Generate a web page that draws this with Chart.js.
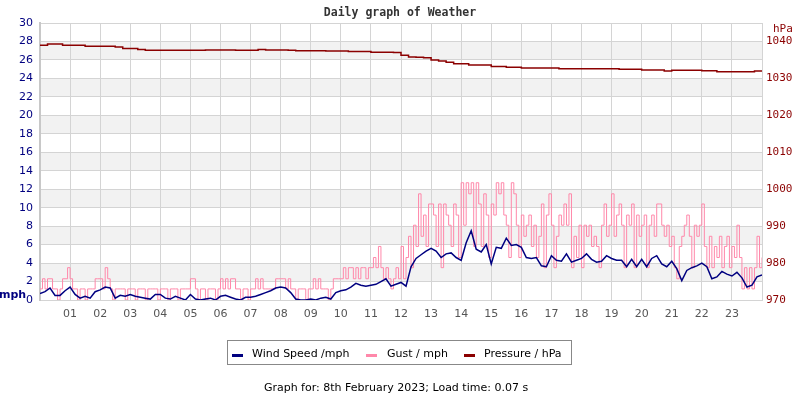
<!DOCTYPE html>
<html><head><meta charset="utf-8">
<script src="https://cdn.jsdelivr.net/npm/chart.js@4.4.0/dist/chart.umd.min.js"></script>
<style>
html,body{margin:0;padding:0;background:#fff;}
#wrap{position:relative;width:800px;height:400px;overflow:hidden;font-family:"DejaVu Sans",sans-serif;}
#c{position:absolute;left:0;top:0;}
#legend{position:absolute;left:227px;top:340px;width:343px;height:23px;border:1px solid #888;background:#fff;}
.item{position:absolute;top:1px;height:24px;line-height:24px;font-size:11px;color:#000;white-space:nowrap;}
.mk{position:absolute;width:11px;height:3px;top:13px;}
#footer{position:absolute;left:0;width:792px;text-align:center;top:381px;font-size:11px;line-height:14px;color:#000;}
</style></head>
<body>
<div id="wrap">
<canvas id="c" width="800" height="400"></canvas>
<div id="legend">
  <div class="mk" style="left:4px;background:#000080"></div><div class="item" style="left:24px">Wind Speed /mph</div>
  <div class="mk" style="left:138px;background:#ff88aa"></div><div class="item" style="left:159px">Gust / mph</div>
  <div class="mk" style="left:236px;background:#8b0000"></div><div class="item" style="left:256px">Pressure / hPa</div>
</div>
<div id="footer">Graph for: 8th February 2023; Load time: 0.07 s</div>
</div>
<script>
const hourLabels = ['', '01','02','03','04','05','06','07','08','09','10','11','12','13','14','15','16','17','18','19','20','21','22','23',''];
const rightTicks = [970, 980, 990, 1000, 1010, 1020, 1030, 1040];

// Wind speed (mph), 10-minute readings
const windSpeed = [
  0.7,0.9,1.3,0.5,0.5,1.0,
  1.4,0.6,0.2,0.4,0.2,0.9,
  1.1,1.4,1.3,0.2,0.5,0.4,
  0.6,0.4,0.3,0.2,0.1,0.6,
  0.6,0.2,0.1,0.4,0.2,0.0,
  0.6,0.1,0.0,0.1,0.2,0.0,
  0.4,0.5,0.3,0.1,0.0,0.3,
  0.3,0.4,0.6,0.8,1.0,1.3,
  1.4,1.3,0.8,0.1,0.0,0.0,
  0.1,0.0,0.2,0.3,0.1,0.8,
  1.0,1.1,1.4,1.8,1.6,1.5,
  1.6,1.7,2.0,2.3,1.5,1.7,
  1.9,1.5,3.6,4.5,4.9,5.3,
  5.6,5.3,4.6,5.0,5.1,4.6,
  4.3,6.2,7.5,5.5,5.2,6.0,
  3.9,5.7,5.6,6.7,5.9,6.0,
  5.7,4.6,4.5,4.6,3.7,3.6,
  4.8,4.3,4.2,5.0,4.1,4.3,
  4.5,5.0,4.4,4.1,4.2,4.8,
  4.5,4.3,4.3,3.6,4.4,3.6,
  4.4,3.6,4.5,4.8,3.9,3.6,
  4.2,3.4,2.1,3.2,3.5,3.7,
  4.0,3.6,2.3,2.5,3.1,2.8,
  2.6,3.0,2.4,1.4,1.6,2.5,
  2.7
];

// Gust (mph), 5-minute readings
const gust = [
  1.2,2.3,1.2,2.3,2.3,1.2,1.2,0,1.2,2.3,2.3,3.5,
  2.3,1.2,1.2,0,1.2,1.2,0,1.2,1.2,1.2,2.3,2.3,
  2.3,1.2,3.5,2.3,1.2,0,1.2,1.2,1.2,1.2,0,1.2,
  1.2,1.2,0,1.2,1.2,1.2,0,1.2,1.2,1.2,1.2,0,
  1.2,1.2,1.2,0,1.2,1.2,1.2,0,1.2,1.2,1.2,1.2,
  2.3,2.3,1.2,0,1.2,1.2,0,1.2,1.2,1.2,0,1.2,
  2.3,1.2,2.3,1.2,2.3,2.3,1.2,1.2,0,1.2,1.2,0,
  1.2,1.2,2.3,1.2,2.3,1.2,1.2,1.2,1.2,1.2,2.3,2.3,
  2.3,2.3,1.2,2.3,1.2,1.2,0,1.2,1.2,1.2,0,1.2,
  1.2,2.3,1.2,2.3,1.2,1.2,1.2,0,1.2,2.3,2.3,2.3,
  2.3,3.5,2.3,3.5,3.5,2.3,3.5,2.3,3.5,3.5,2.3,3.5,
  3.5,4.6,3.5,5.8,3.5,2.3,3.5,2.3,1.2,2.3,3.5,2.3,
  5.8,2.3,4.6,6.9,3.5,8.1,5.8,11.5,6.9,9.2,5.8,10.4,
  10.4,9.2,5.8,10.4,3.5,10.4,9.2,8.1,5.8,10.4,9.2,4.6,
  12.7,8.1,12.7,11.5,12.7,5.8,12.7,10.4,5.8,11.5,9.2,4.6,
  10.4,9.2,12.7,11.5,12.7,9.2,8.1,4.6,12.7,11.5,8.1,4.6,
  9.2,6.9,8.1,9.2,5.8,8.1,4.6,6.9,10.4,3.5,9.2,11.5,
  8.1,3.5,6.9,9.2,8.1,10.4,8.1,11.5,3.5,6.9,4.6,8.1,
  3.5,8.1,6.9,8.1,5.8,6.9,5.8,3.5,8.1,10.4,6.9,8.1,
  11.5,6.9,9.2,10.4,8.1,3.5,9.2,8.1,10.4,3.5,9.2,6.9,
  8.1,9.2,3.5,8.1,9.2,6.9,10.4,10.4,8.1,6.9,8.1,5.8,
  6.9,3.5,2.3,5.8,6.9,8.1,9.2,6.9,3.5,8.1,6.9,8.1,
  10.4,5.8,3.5,6.9,3.5,5.8,4.6,6.9,3.5,5.8,6.9,3.5,
  5.8,4.6,8.1,4.6,1.2,3.5,1.2,3.5,1.2,3.5,6.9,3.5,
  4.6
];

// Pressure (hPa), 15-minute readings
const pressure = [
  1039.0,1039.3,1039.3,1039.0,
  1039.0,1039.0,1038.7,1038.7,
  1038.7,1038.7,1038.5,1038.1,
  1038.1,1037.8,1037.6,1037.6,
  1037.6,1037.6,1037.6,1037.6,
  1037.6,1037.6,1037.7,1037.7,
  1037.7,1037.7,1037.6,1037.6,
  1037.6,1037.8,1037.7,1037.7,
  1037.7,1037.6,1037.5,1037.5,
  1037.5,1037.5,1037.4,1037.4,
  1037.4,1037.3,1037.3,1037.3,
  1037.1,1037.1,1037.1,1037.0,
  1036.3,1035.8,1035.7,1035.6,
  1035.0,1034.7,1034.4,1034.0,
  1034.0,1033.6,1033.6,1033.6,
  1033.2,1033.2,1033.0,1033.0,
  1032.8,1032.8,1032.8,1032.8,
  1032.8,1032.6,1032.6,1032.6,
  1032.6,1032.6,1032.6,1032.6,
  1032.6,1032.5,1032.5,1032.5,
  1032.3,1032.3,1032.3,1032.0,
  1032.2,1032.2,1032.2,1032.2,
  1032.1,1032.1,1031.8,1031.8,
  1031.8,1031.8,1031.8,1032.0,
  1031.8
];

const toPts = (arr, perHour) => arr.map((v, i) => ({x: i / perHour, y: v}));

const bandsPlugin = {
  id: 'bands',
  beforeDraw(chart) {
    const {ctx, chartArea: a, scales: {y}} = chart;
    ctx.save();
    ctx.fillStyle = '#fff';
    ctx.fillRect(0, 0, chart.width, chart.height);
    ctx.fillStyle = '#f2f2f2';
    for (let v = 2; v < 30; v += 4) {
      const t = y.getPixelForValue(v + 2), b = y.getPixelForValue(v);
      ctx.fillRect(a.left, t, a.right - a.left, b - t);
    }
    ctx.restore();
  }
};

const textPlugin = {
  id: 'texts',
  afterDraw(chart) {
    const ctx = chart.ctx;
    ctx.save();
    ctx.textBaseline = 'middle';
    ctx.textAlign = 'center';
    ctx.fillStyle = '#333';
    ctx.font = 'bold 11.5px "DejaVu Sans Mono"';
    ctx.fillText('Daily graph of Weather', 400, 13);
    ctx.fillStyle = '#000080';
    ctx.font = 'bold 11px "DejaVu Sans"';
    ctx.fillText('mph', 12.5, 295);
    ctx.fillStyle = '#8b0000';
    ctx.font = '11px "DejaVu Sans Mono"';
    ctx.textAlign = 'left';
    ctx.fillText('hPa', 773, 29);
    ctx.restore();
  }
};

new Chart(document.getElementById('c'), {
  type: 'line',
  data: {
    datasets: [
      {label: 'Wind Speed /mph', data: toPts(windSpeed, 6), borderColor: '#000080', borderWidth: 1.5, pointRadius: 0, tension: 0, yAxisID: 'y', order: 0},
      {label: 'Gust / mph', data: toPts(gust, 12), borderColor: '#ff88aa', borderWidth: 1, pointRadius: 0, stepped: true, yAxisID: 'y', order: 1},
      {label: 'Pressure / hPa', data: toPts(pressure, 4), borderColor: '#8b0000', borderWidth: 1.5, pointRadius: 0, stepped: true, yAxisID: 'y1', order: 2}
    ]
  },
  options: {
    responsive: false,
    animation: false,
    layout: {padding: {top: 23, left: 0, right: 0, bottom: 0}},
    plugins: {legend: {display: false}, tooltip: {enabled: false}, title: {display: false}},
    scales: {
      x: {
        type: 'linear', min: 0, max: 24, position: 'bottom',
        afterFit: s => { s.height = 100; },
        ticks: {stepSize: 1, autoSkip: false, maxRotation: 0, color: '#555', padding: 8,
          font: {family: 'DejaVu Sans', size: 11},
          callback: v => hourLabels[v] ?? ''},
        grid: {color: '#d4d4d4', drawTicks: false},
        border: {color: '#d4d4d4'}
      },
      y: {
        position: 'left', min: 0, max: 30,
        afterFit: s => { s.width = 40; },
        ticks: {stepSize: 2, color: '#000080', padding: 7, font: {family: 'DejaVu Sans', size: 11}},
        grid: {color: '#d4d4d4', drawTicks: false},
        border: {color: '#c8c8c8', width: 2}
      },
      y1: {
        position: 'right', min: 970, max: 1045,
        afterFit: s => { s.width = 38; },
        afterBuildTicks: s => { s.ticks = rightTicks.map(v => ({value: v})); },
        ticks: {color: '#8b0000', padding: 4, font: {family: 'DejaVu Sans Mono', size: 11},
          callback: v => String(v)},
        grid: {drawOnChartArea: false, drawTicks: false},
        border: {display: false}
      }
    }
  },
  plugins: [bandsPlugin, textPlugin]
});
</script>
</body></html>
